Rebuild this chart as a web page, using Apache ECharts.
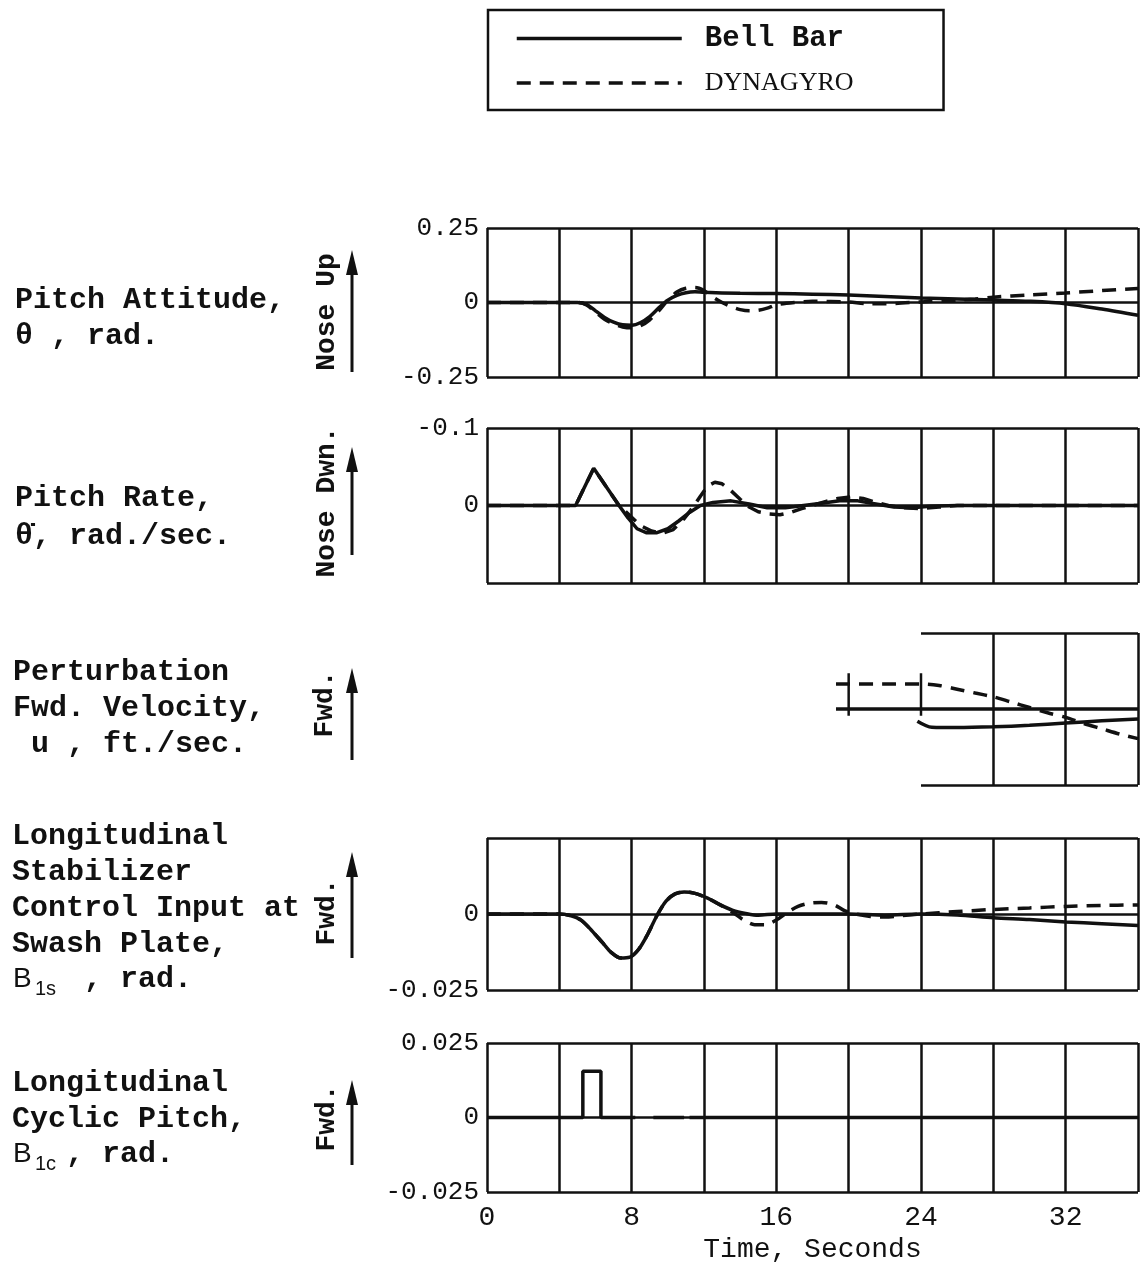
<!DOCTYPE html>
<html>
<head>
<meta charset="utf-8">
<script src="https://cdn.jsdelivr.net/npm/echarts@6/dist/echarts.min.js"></script>
<style>
  html, body { margin: 0; padding: 0; background: #fff; }
  #chart { width: 1147px; height: 1269px; }
</style>
</head>
<body>
<div id="chart"></div>
<script>
// Time histories after a longitudinal cyclic pulse: Bell bar vs. DYNAGYRO stabilizer.
// Each series is a list of [time (s), value] pairs.

const timeTickLabels = [0, 8, 16, 24, 32];

// Pitch attitude, theta (rad), nose up positive
const thetaBellBar = [[0,0],[5,0],[5.5,-0.006],[6,-0.028],[6.5,-0.05],[7,-0.066],[7.5,-0.075],[8,-0.076],
  [8.5,-0.067],[9,-0.047],[9.5,-0.018],[10,0.008],[10.5,0.024],[11,0.033],[11.5,0.036],[12,0.034],
  [14,0.031],[16,0.03],[18,0.028],[20,0.025],[22,0.02],[24,0.015],[26,0.012],[28,0.008],[30,0.004],
  [32,-0.004],[34,-0.022],[36,-0.043]];
const thetaDynagyro = [[0,0],[5,0],[5.5,-0.008],[6,-0.032],[6.5,-0.056],[7,-0.072],[7.5,-0.082],[8,-0.085],
  [8.5,-0.078],[9,-0.058],[9.5,-0.028],[10,0.008],[10.5,0.035],[11,0.048],[11.5,0.05],[12,0.04],
  [12.5,0.018],[13,0.0],[13.5,-0.014],[14,-0.024],[14.5,-0.028],[15,-0.026],[15.5,-0.019],[16,-0.008],
  [17,0.0],[18,0.004],[20,0.002],[21,-0.004],[22,-0.004],[24,0.002],[26,0.008],[27,0.012],[28,0.018],
  [30,0.025],[32,0.032],[34,0.04],[36,0.047]];

// Pitch rate (rad/sec), nose down negative; axis runs -0.1 at top
const rateBellBar = [[0,0],[4.9,0],[5.9,-0.048],[7.3,0],[7.8,0.016],[8.3,0.03],[8.8,0.035],[9.4,0.035],
  [10,0.03],[10.6,0.02],[11.2,0.009],[11.8,0],[12.5,-0.004],[13.5,-0.006],[14.5,-0.002],[15.5,0.003],
  [16.5,0.003],[17.5,0],[18.5,-0.003],[19.5,-0.006],[20.5,-0.006],[21.5,-0.002],[22.5,0.002],[23.5,0.003],
  [24.5,0.001],[26,0],[36,0]];
const rateDynagyro = [[0,0],[4.9,0],[5.9,-0.048],[7.3,0],[7.9,0.013],[8.5,0.026],[9.1,0.033],[9.7,0.036],
  [10.3,0.031],[10.9,0.017],[11.4,0.002],[11.8,-0.012],[12.2,-0.025],[12.6,-0.03],[13.0,-0.028],
  [13.5,-0.019],[14.0,-0.008],[14.5,0.002],[15.0,0.008],[15.6,0.011],[16.2,0.012],[16.8,0.009],
  [17.4,0.004],[18.0,0],[18.7,-0.005],[19.4,-0.009],[20.1,-0.011],[20.8,-0.009],[21.5,-0.004],
  [22.2,0],[23,0.003],[24,0.004],[25,0.002],[26,0],[36,0]];

// Perturbation forward velocity, u (relative scale, no graduations)
const uBellBar = [[23.8,-0.16],[24.6,-0.24],[26,-0.245],[28,-0.235],[30,-0.215],[32,-0.185],[34,-0.155],[36,-0.13]];
const uBellBarZero = [[19.3,0],[36,0]];
const uDynagyro = [[19.3,0.33],[20,0.33],[22,0.33],[24,0.33],[25,0.31],[26,0.26],[27,0.21],[28,0.16],
  [29,0.09],[30,0.02],[31,-0.05],[32,-0.11],[33,-0.19],[34,-0.26],[35,-0.33],[36,-0.39]];
const uGridStubs = [[20,0.47],[20,-0.09],[20,null],[24,0.47],[24,-0.09]];

// Longitudinal stabilizer control input at swash plate, B1s (rad)
const b1sBellBar = [[0,0],[4,0],[4.6,-0.0005],[5.2,-0.002],[5.8,-0.0055],[6.4,-0.0095],[6.9,-0.0128],
  [7.4,-0.0145],[7.9,-0.0142],[8.4,-0.0115],[8.9,-0.0065],[9.4,-0.0005],[9.9,0.0042],[10.4,0.0066],
  [10.9,0.0072],[11.5,0.0068],[12.2,0.0052],[12.9,0.003],[13.6,0.0012],[14.3,0.0002],[15,-0.0004],
  [16,0],[20,0],[22,-0.0004],[24,0],[26,-0.0003],[28,-0.0012],[30,-0.0018],[32,-0.0026],[34,-0.0032],[36,-0.0038]];
const b1sDynagyro = [[0,0],[4,0],[4.6,-0.0005],[5.2,-0.002],[5.8,-0.0055],[6.4,-0.0095],[6.9,-0.0128],
  [7.4,-0.0145],[7.9,-0.0142],[8.4,-0.0115],[8.9,-0.0065],[9.4,-0.0005],[9.9,0.0042],[10.4,0.0066],
  [10.9,0.0072],[11.5,0.0068],[12.2,0.0052],[12.9,0.003],[13.6,0.0005],[14.2,-0.002],[14.8,-0.0035],
  [15.4,-0.0035],[16,-0.002],[16.6,0.0005],[17.2,0.0025],[17.8,0.0035],[18.5,0.0038],[19.2,0.003],
  [19.8,0.001],[20.4,0],[21.2,-0.0008],[22,-0.001],[23,-0.0005],[24,0],[26,0.0008],[28,0.0015],
  [30,0.002],[32,0.0025],[34,0.0028],[36,0.003]];

// Longitudinal cyclic pitch, B1c (rad): one-second forward pulse
const b1cInput = [[0,0],[5.3,0],[5.3,0.0155],[6.3,0.0155],[6.3,0],[8.2,0],[8.2,null],
  [9.2,null],[9.2,0],[10.9,0],[10.9,null],[11.2,null],[11.2,0],[36,0]];

const MONO = '"Liberation Mono", "DejaVu Sans Mono", monospace';
const INK = '#111';
const GRID_LINE = { color: INK, width: 2.5 };
const TRACE_W = 3.5;
const DASH = [14, 9];

function timeAxis(gridIndex, withLabels) {
  return {
    type: 'value', gridIndex, min: 0, max: 36, interval: 4,
    axisLine: { show: false }, axisTick: { show: false },
    splitLine: { show: true, lineStyle: GRID_LINE },
    axisLabel: withLabels ? {
      show: true, color: INK, fontFamily: MONO, fontSize: 28, margin: 12,
      formatter: v => (timeTickLabels.indexOf(v) >= 0 ? String(v) : '')
    } : { show: false },
    name: withLabels ? 'Time, Seconds' : '',
    nameLocation: 'middle', nameGap: 44,
    nameTextStyle: { color: INK, fontFamily: MONO, fontSize: 28 }
  };
}

function valueAxis(gridIndex, min, max, opts) {
  opts = opts || {};
  return {
    type: 'value', gridIndex, min, max, interval: (max - min) / 2,
    inverse: !!opts.inverse,
    axisLine: { show: false }, axisTick: { show: false },
    splitLine: { show: true, lineStyle: GRID_LINE },
    axisLabel: opts.hideLabels ? { show: false } : {
      show: true, color: INK, fontFamily: MONO, fontSize: 26, margin: 8,
      formatter: opts.formatter || (v => String(v))
    }
  };
}

function trace(name, data, xi, yi, dashed, smooth) {
  return {
    name, type: 'line', data, xAxisIndex: xi, yAxisIndex: yi,
    symbol: 'none', smooth: smooth || false, connectNulls: false,
    lineStyle: { color: INK, width: TRACE_W, type: dashed ? DASH : 'solid' },
    itemStyle: { color: INK },
    emphasis: { disabled: true }, silent: true, z: 3
  };
}

const chart = echarts.init(document.getElementById('chart'), null, { renderer: 'canvas' });

const grids = [
  { left: 487, right: 9, top: 228, height: 149 },   // theta
  { left: 487, right: 9, top: 428, height: 155 },   // pitch rate
  { left: 487, right: 9, top: 633, height: 152 },   // u traces
  { left: 921, right: 9, top: 633, height: 152 },   // u partial frame
  { left: 487, right: 9, top: 838, height: 152 },   // B1s
  { left: 487, right: 9, top: 1043, height: 149 }   // B1c
];

const xAxes = [
  timeAxis(0, false),
  timeAxis(1, false),
  { type: 'value', gridIndex: 2, min: 0, max: 36, show: false },
  { type: 'value', gridIndex: 3, min: 24, max: 36, interval: 4,
    axisLine: { show: false }, axisTick: { show: false }, axisLabel: { show: false },
    splitLine: { show: true, showMinLine: false, lineStyle: GRID_LINE } },
  timeAxis(4, false),
  timeAxis(5, true)
];

const yAxes = [
  valueAxis(0, -0.25, 0.25),
  valueAxis(1, -0.1, 0.1, { inverse: true, formatter: v => (v > 0 ? '' : String(v)) }),
  { type: 'value', gridIndex: 2, min: -1, max: 1, show: false },
  { type: 'value', gridIndex: 3, min: -1, max: 1, interval: 2,
    axisLine: { show: false }, axisTick: { show: false }, axisLabel: { show: false },
    splitLine: { show: true, lineStyle: GRID_LINE } },
  valueAxis(4, -0.025, 0.025, { formatter: v => (v > 0 ? '' : String(v)) }),
  valueAxis(5, -0.025, 0.025)
];

const series = [
  trace('Bell Bar', thetaBellBar, 0, 0, false, 0.3),
  trace('DYNAGYRO', thetaDynagyro, 0, 0, true, 0.3),
  trace('Bell Bar', rateBellBar, 1, 1, false, false),
  trace('DYNAGYRO', rateDynagyro, 1, 1, true, false),
  trace('Bell Bar', uBellBarZero, 2, 2, false, false),
  trace('Bell Bar', uBellBar, 2, 2, false, 0.3),
  trace('DYNAGYRO', uDynagyro, 2, 2, true, 0.3),
  Object.assign(trace('frameStub', uGridStubs, 2, 2, false, false), { lineStyle: { color: INK, width: 2.5 } }),
  trace('Bell Bar', b1sBellBar, 4, 4, false, 0.3),
  trace('DYNAGYRO', b1sDynagyro, 4, 4, true, 0.3),
  trace('Bell Bar', b1cInput, 5, 5, false, false)
];

// Left-hand variable captions, rotated direction notes and arrows
const capFont = 'bold 30px ' + MONO;
function caption(x, top, text, lh) {
  return { type: 'text', left: x, top, silent: true,
    style: { text, font: capFont, fill: INK, lineHeight: lh || 36 } };
}
function note(cx, cy, text) {
  return { type: 'text', x: cx, y: cy, rotation: Math.PI / 2, silent: true,
    style: { text, font: 'bold 28px ' + MONO, fill: INK, align: 'center', verticalAlign: 'middle' } };
}
function arrow(x, top, bottom) {
  return [
    { type: 'line', silent: true, shape: { x1: x, y1: bottom, x2: x, y2: top + 18 },
      style: { stroke: INK, lineWidth: 3 } },
    { type: 'polygon', silent: true, shape: { points: [[x, top], [x - 6, top + 25], [x + 6, top + 25]] },
      style: { fill: INK } }
  ];
}
function subscriptSymbol(x, cy, sub, afterX) {
  return [
    { type: 'text', x, y: cy, silent: true,
      style: { text: 'B', font: '28px "Liberation Sans", sans-serif', fill: INK, verticalAlign: 'middle' } },
    { type: 'text', x: x + 22, y: cy + 10, silent: true,
      style: { text: sub, font: '20px "Liberation Sans", sans-serif', fill: INK, verticalAlign: 'middle' } },
    { type: 'text', x: afterX, y: cy, silent: true,
      style: { text: ', rad.', font: capFont, fill: INK, verticalAlign: 'middle' } }
  ];
}

const graphics = [].concat(
  [caption(15, 282, 'Pitch Attitude,\nθ , rad.')],
  [caption(15, 479, 'Pitch Rate,\nθ̇, rad./sec.', 38)],
  [caption(13, 654, 'Perturbation\nFwd. Velocity,\n u , ft./sec.')],
  [caption(12, 818, 'Longitudinal\nStabilizer\nControl Input at\nSwash Plate,')],
  subscriptSymbol(13, 979, '1s', 84),
  [caption(12, 1065, 'Longitudinal\nCyclic Pitch,')],
  subscriptSymbol(13, 1154, '1c', 66),
  [note(327, 312, 'Nose Up'), note(327, 502, 'Nose Dwn.'), note(325, 704, 'Fwd.'),
   note(327, 912, 'Fwd.'), note(327, 1118, 'Fwd.')],
  arrow(352, 250, 372), arrow(352, 447, 555), arrow(352, 668, 760),
  arrow(352, 852, 958), arrow(352, 1080, 1165)
);

chart.setOption({
  animation: false,
  backgroundColor: '#fff',
  legend: {
    orient: 'vertical', left: 488, top: 10,
    padding: [14, 90, 14, 27],
    itemWidth: 165, itemHeight: 26, itemGap: 17,
    borderColor: INK, borderWidth: 2.5,
    selectedMode: false,
    itemStyle: { opacity: 0 },
    lineStyle: { width: 3.5, color: INK },
    textStyle: { color: INK, padding: [0, 0, 0, 18] },
    data: [
      { name: 'Bell Bar', textStyle: { fontFamily: MONO, fontWeight: 'bold', fontSize: 29, color: INK } },
      { name: 'DYNAGYRO', textStyle: { fontFamily: '"Liberation Serif", serif', fontSize: 26, color: INK } }
    ]
  },
  grid: grids,
  xAxis: xAxes,
  yAxis: yAxes,
  series,
  graphic: graphics
});
</script>
</body>
</html>
